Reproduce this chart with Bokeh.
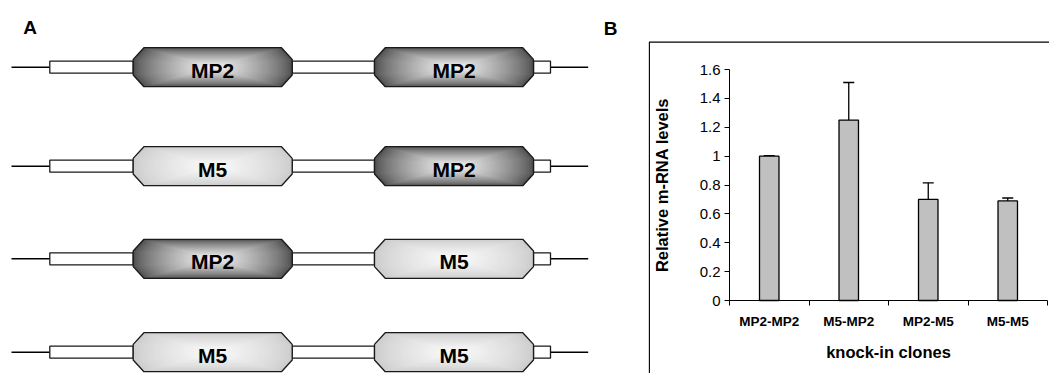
from bokeh.plotting import figure
from bokeh.layouts import row
from bokeh.models import (Range1d, FixedTicker, Whisker, TeeHead, ColumnDataSource,
                          BoxAnnotation, Label)
from bokeh.core.properties import value
from bokeh.embed import file_html
from bokeh.resources import INLINE

# ---------------- data ----------------
# Panel A: knock-in constructs (first and second element of each construct)
first_element = ["MP2", "M5", "MP2", "M5"]
second_element = ["MP2", "MP2", "M5", "M5"]

# Panel B: relative m-RNA levels per knock-in clone
clones = ["MP2-MP2", "M5-MP2", "MP2-M5", "M5-M5"]
relative_levels = [1.00, 1.25, 0.70, 0.69]
level_errors = [0.004, 0.26, 0.115, 0.02]
y_ticks = [0, 0.2, 0.4, 0.6, 0.8, 1, 1.2, 1.4, 1.6]
y_tick_labels = ["0", "0.2", "0.4", "0.6", "0.8", "1", "1.2", "1.4", "1.6"]

FONT = "Liberation Sans"
W, H = 1049, 373
A_W = 648  # width of panel A canvas

# ---------------- panel A (schematic) ----------------
pA = figure(width=A_W, height=H, x_range=Range1d(0, A_W), y_range=Range1d(H, 0),
            output_backend="svg", toolbar_location=None, min_border=0)
pA.axis.visible = False
pA.grid.visible = False
pA.outline_line_color = None
pA.background_fill_color = "white"

row_y = [66.7, 165.7, 258.3, 351.7]
box_cx = [212.2, 453.5]
HW, HH, CDX, CDY = 79.5, 19.5, 10.7, 11.7
RH = 6.0  # half-height of connector rectangles
shade = {"MP2": ((0x50, 0x50, 0x50), (0xf4, 0xf4, 0xf4)),
         "M5": ((0xcc, 0xcc, 0xcc), (0xfa, 0xfa, 0xfa))}


def octagon(cx, cy, hw, hh, cdx, cdy):
    xs = [cx - hw + cdx, cx + hw - cdx, cx + hw, cx + hw, cx + hw - cdx, cx - hw + cdx, cx - hw, cx - hw]
    ys = [cy - hh, cy - hh, cy - hh + cdy, cy + hh - cdy, cy + hh, cy + hh, cy + hh - cdy, cy - hh + cdy]
    return xs, ys


def hexc(c):
    return "#%02x%02x%02x" % tuple(int(round(v)) for v in c)


layer_xs, layer_ys, layer_col = [], [], []
out_xs, out_ys = [], []
line_x0, line_x1, line_y = [], [], []
rect_l, rect_r, rect_y = [], [], []
txt_x, txt_y, txt = [], [], []
N = 36
for i, cy in enumerate(row_y):
    for cx, name in zip(box_cx, [first_element[i], second_element[i]]):
        edge, centre = shade[name]
        for k in range(N):
            s = 1.0 - k / N
            t = (k / (N - 1)) ** 0.75
            col = [edge[j] + (centre[j] - edge[j]) * t for j in range(3)]
            xs, ys = octagon(cx, cy, HW * s, HH * s, CDX * s, CDY * s)
            layer_xs.append(xs); layer_ys.append(ys); layer_col.append(hexc(col))
        xs, ys = octagon(cx, cy, HW, HH, CDX, CDY)
        out_xs.append(xs); out_ys.append(ys)
        txt_x.append(cx); txt_y.append(cy); txt.append(name)
    for l, r in [(49.3, 132.7), (291.7, 374.0), (533.0, 550.0)]:
        rect_l.append(l); rect_r.append(r); rect_y.append(cy)
    for a, b in [(11, 49.3), (550.0, 587.7)]:
        line_x0.append(a); line_x1.append(b); line_y.append(cy)

pA.segment(x0=line_x0, y0=line_y, x1=line_x1, y1=line_y, line_color="black", line_width=1.6)
pA.quad(left=rect_l, right=rect_r, top=[y - RH for y in rect_y], bottom=[y + RH for y in rect_y],
        fill_color="white", line_color="#1a1a1a", line_width=1.3)
pA.patches(xs=layer_xs, ys=layer_ys, fill_color=layer_col, line_color=None)
pA.patches(xs=out_xs, ys=out_ys, fill_alpha=0, line_color="#1a1a1a", line_width=1.3)
pA.text(x=txt_x, y=txt_y, text=txt, text_font=value(FONT), text_font_style="bold",
        text_font_size="21px", text_align="center", text_baseline="middle",
        text_color="black", y_offset=3)

pA.add_layout(Label(x=22.7, y=27.0, text="A", text_font=FONT, text_font_style="bold",
                    text_font_size="19px", text_baseline="alphabetic", text_color="black"))
pA.add_layout(Label(x=603.3, y=27.8, text="B", text_font=FONT, text_font_style="bold",
                    text_font_size="19px", text_baseline="alphabetic", text_color="black"))

# ---------------- panel B (bar chart) ----------------
B_W = W - A_W
PX_CAT = 79.5          # pixels per category
PX_UNIT = 144.375      # pixels per 1.0 of relative level
AX_LEFT = 81           # canvas x of the value axis
AX_BOTTOM = 300        # canvas y of the category axis
n = len(clones)
x_range = Range1d(-AX_LEFT / PX_CAT, (B_W - AX_LEFT) / PX_CAT)
y_range = Range1d(-(H - AX_BOTTOM) / PX_UNIT, AX_BOTTOM / PX_UNIT)

pB = figure(width=B_W, height=H, x_range=x_range, y_range=y_range,
            output_backend="svg", toolbar_location=None, min_border=0)
pB.grid.visible = False
pB.outline_line_color = None
pB.background_fill_color = "white"

xc = [i + 0.5 for i in range(n)]
src = ColumnDataSource(dict(x=xc, top=relative_levels,
                            upper=[v + e for v, e in zip(relative_levels, level_errors)]))
pB.vbar(x="x", top="top", bottom=0, width=0.245, source=src, fill_color="#c0c0c0",
        line_color="black", line_width=1.3)
pB.add_layout(Whisker(source=src, base="x", lower="top", upper="upper", line_color="black",
                      line_width=1.3, lower_head=None,
                      upper_head=TeeHead(size=11, line_color="black", line_width=1.3)))

# frame of the chart area (left and top edges visible)
pB.add_layout(BoxAnnotation(left=0.8, top=41.7, right=3000, bottom=3000,
                            left_units="canvas", right_units="canvas",
                            top_units="canvas", bottom_units="canvas",
                            fill_alpha=0, line_color="black", line_alpha=1.0, line_width=1.3))

yax = pB.yaxis[0]
yax.fixed_location = 0
yax.bounds = (0, 1.6)
yax.ticker = FixedTicker(ticks=y_ticks)
yax.major_label_overrides = {t: s for t, s in zip(y_ticks, y_tick_labels)}
yax.minor_tick_line_color = None
yax.major_tick_in = 0
yax.major_tick_out = 5
yax.major_label_standoff = 4
yax.major_label_text_font = FONT
yax.major_label_text_font_size = "15px"
yax.major_label_text_color = "black"
yax.axis_line_color = "black"
yax.major_tick_line_color = "black"
yax.axis_label = "Relative m-RNA levels"
yax.axis_label_text_font = FONT
yax.axis_label_text_font_style = "bold"
yax.axis_label_text_font_size = "16.5px"
yax.axis_label_text_color = "black"
yax.axis_label_standoff = 26

xax = pB.xaxis[0]
xax.fixed_location = 0
xax.bounds = (0, n)
xax.ticker = FixedTicker(ticks=xc, minor_ticks=list(range(n + 1)))
xax.major_label_overrides = {x: c for x, c in zip(xc, clones)}
xax.major_tick_in = 0
xax.major_tick_out = 0
xax.minor_tick_in = 0
xax.minor_tick_out = 5
xax.minor_tick_line_color = "black"
xax.major_label_standoff = 8
xax.major_label_text_font = FONT
xax.major_label_text_font_style = "bold"
xax.major_label_text_font_size = "13.5px"
xax.major_label_text_color = "black"
xax.axis_line_color = "black"
xax.axis_label = "knock-in clones"
xax.axis_label_text_font = FONT
xax.axis_label_text_font_style = "bold"
xax.axis_label_text_font_size = "16.5px"
xax.axis_label_text_color = "black"
xax.axis_label_standoff = 11

layout = row(pA, pB)
open("out.html", "w").write(file_html(layout, INLINE))
